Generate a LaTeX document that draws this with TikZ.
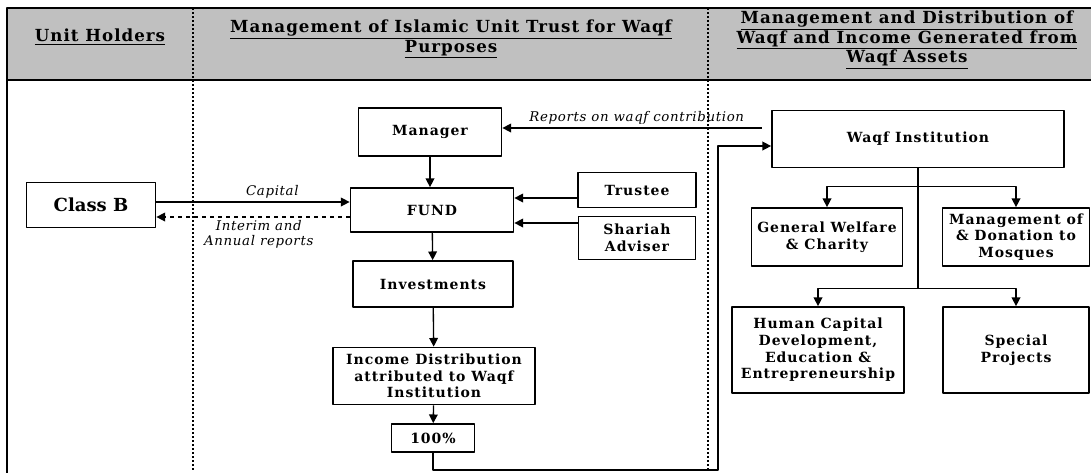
\documentclass[tikz,border=0pt]{standalone}
\usepackage{fontspec}
\setmainfont{DejaVu Serif}
\newfontfamily\boxfont[LetterSpace=7]{DejaVu Serif}
\newfontfamily\headfont[LetterSpace=6]{DejaVu Serif}
\newfontfamily\notefont[LetterSpace=5]{DejaVu Serif}
\usetikzlibrary{arrows.meta, calc}
\definecolor{headgray}{RGB}{192,192,192}

\tikzset{
	box/.style={draw, line width=1.3pt, fill=white, align=center, inner sep=1pt,
		font=\boxfont\bfseries\fontsize{10.5}{12.5}\selectfont},
	sz/.style 2 args={minimum width=#1*0.75pt, minimum height=#2*0.75pt},
	flow/.style={->, line width=1pt},
	lbl/.style={font=\notefont\itshape\fontsize{10}{11}\selectfont, inner sep=2pt},
	lane/.style={line width=1.6pt, line cap=butt, dash pattern=on 1.5pt off 1.5pt},
	head/.style={align=center, font=\headfont\bfseries\fontsize{12.5}{14.6}\selectfont}
}

\begin{document}
\begin{tikzpicture}[x=0.75pt, y=-0.75pt, line join=round, >={Triangle[length=6.5pt,width=6.5pt]}]
	\clip (0,0) rectangle (1091,472);

	% header band and frame
	\filldraw[fill=headgray, line width=1.3pt] (7,8) rectangle (1100,80);
	\draw[line width=1.3pt] (7,80) -- (7,480);
	\draw[lane] (193,8) -- (193,472);
	\draw[lane] (708,8) -- (708,472);

	\node[head] (h1) at (100,37) {\underline{Unit Holders}};
	\node[head] (h2) at (451,39) {\underline{Management of Islamic Unit Trust for Waqf}\\\underline{Purposes}};
	\node[head] (h3) at (907,40) {\underline{Management and Distribution of}\\\underline{Waqf and Income Generated from}\\\underline{Waqf Assets}};

	% unit holders
	\node[box, sz={129}{45}, font=\bfseries\fontsize{13.5}{15}\selectfont] (classb) at (91,205) {Class B};

	% unit trust
	\node[box, sz={143}{48}] (manager) at (430,132) {Manager};
	\node[box, sz={163}{44}] (fund) at (432,210) {FUND};
	\node[box, sz={118}{35}] (trustee) at (637,190) {Trustee};
	\node[box, sz={117}{43}] (shariah) at (637,238) {Shariah\\Adviser};
	\node[box, sz={160}{46}] (invest) at (433,284) {Investments};
	\node[box, sz={202}{57}] (income) at (434,376) {Income Distribution\\attributed to Waqf\\Institution};
	\node[box, sz={83}{28}] (pct) at (433,438) {100\%};

	% waqf side
	\node[box, sz={292}{57}] (waqf) at (918,139) {Waqf Institution};
	\node[box, sz={151}{58}] (welfare) at (827,237) {General Welfare\\\& Charity};
	\node[box, sz={147}{58}] (mosque) at (1016,237) {Management of\\\& Donation to\\Mosques};
	\node[box, sz={172}{86}] (human) at (818,350) {Human Capital\\Development,\\Education \&\\Entrepreneurship};
	\node[box, sz={146}{86}] (special) at (1016,350) {Special\\Projects};

	% flows into and out of the fund
	\coordinate (cap) at ($(fund.west)+(0,-8)$);
	\coordinate (rep) at ($(fund.west)+(0,7)$);
	\draw[flow] (classb.east |- cap) -- (cap) node[lbl, pos=0.6, above] {Capital};
	\draw[flow, dashed] (rep) -- (classb.east |- rep)
		node[lbl, pos=0.47, below, align=center] {Interim and\\Annual reports};
	\coordinate (tr) at ($(fund.east)+(0,-12)$);
	\coordinate (sh) at ($(fund.east)+(0,13)$);
	\draw[flow] (trustee.west |- tr) -- (tr);
	\draw[flow] (shariah.west |- sh) -- (sh);
	\draw[flow] (manager.south) -- (manager.south |- fund.north);
	\draw[flow] (fund) -- (invest);
	\draw[flow] (invest) -- (income);
	\draw[flow] (income) -- (pct);

	% reports back and income to waqf
	\coordinate (rw) at ($(manager.east)+(0,-4)$);
	\draw[flow, shorten <=7pt] (waqf.west |- rw) -- (rw)
		node[lbl, midway, above] {Reports on waqf contribution};
	\coordinate (low) at (718,470);
	\draw[flow] (pct.south) |- (low) |- ($(waqf.west)+(0,7)$);

	% distribution tree
	\coordinate (t1) at ($(waqf.south)+(0,18)$);
	\coordinate (t2) at ($(waqf.south)+(0,120)$);
	\draw[line width=1pt] (waqf.south) -- (t2);
	\draw[flow] (t1) -| (welfare.north);
	\draw[flow] (t1) -| (mosque.north);
	\draw[flow] (t2) -| (human.north);
	\draw[flow] (t2) -| (special.north);
\end{tikzpicture}
\end{document}
